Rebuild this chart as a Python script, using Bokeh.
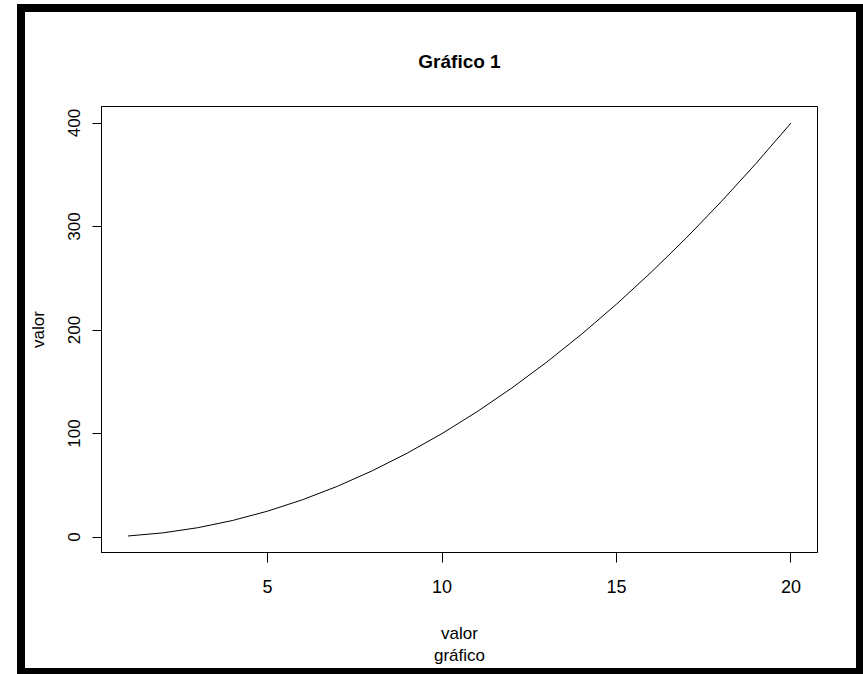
from bokeh.plotting import figure
from bokeh.models import Range1d, FixedTicker
from bokeh.embed import file_html
from bokeh.resources import INLINE

# data
valor_x = [1, 2, 3, 4, 5, 6, 7, 8, 9, 10, 11, 12, 13, 14, 15, 16, 17, 18, 19, 20]
valor_y = [1, 4, 9, 16, 25, 36, 49, 64, 81, 100, 121, 144, 169, 196, 225, 256,
           289, 324, 361, 400]
x_ticks = [5, 10, 15, 20]
y_ticks = [0, 100, 200, 300, 400]
title_text = "Gráfico 1"
x_label = "valor\ngráfico"
y_label = "valor"

FONT = "Liberation Sans, Arial, sans-serif"

p = figure(
    frame_width=716, frame_height=446,
    min_border_left=75, min_border_right=39,
    min_border_top=94, min_border_bottom=116,
    x_range=Range1d(0.24, 20.76), y_range=Range1d(-14.96, 415.96),
    output_backend="svg", toolbar_location=None,
    title=title_text,
)
p.styles = {"outline": "8px solid black", "margin-left": "25px", "margin-top": "12px"}

p.line(valor_x, valor_y, line_color="black", line_width=1)

p.xgrid.visible = False
p.ygrid.visible = False
p.outline_line_color = "black"
p.outline_line_alpha = 1
p.outline_line_width = 1
p.background_fill_color = "white"
p.border_fill_color = "white"

p.title.align = "center"
p.title.text_font = FONT
p.title.text_font_style = "bold"
p.title.text_font_size = "19px"
p.title.text_color = "black"
p.title.standoff = 70

xa = p.xaxis[0]
xa.ticker = FixedTicker(ticks=x_ticks)
xa.major_tick_out = 10
xa.major_tick_in = 0
xa.minor_tick_out = 0
xa.minor_tick_in = 0
xa.axis_line_color = "black"
xa.major_tick_line_color = "black"
xa.major_label_text_font = FONT
xa.major_label_text_font_size = "18px"
xa.major_label_text_color = "black"
xa.major_label_standoff = 17
xa.axis_label = x_label
xa.axis_label_text_font = FONT
xa.axis_label_text_font_size = "17px"
xa.axis_label_text_font_style = "normal"
xa.axis_label_text_color = "black"
xa.axis_label_standoff = 28

ya = p.yaxis[0]
ya.ticker = FixedTicker(ticks=y_ticks)
ya.major_tick_out = 9
ya.major_tick_in = 0
ya.minor_tick_out = 0
ya.minor_tick_in = 0
ya.axis_line_color = "black"
ya.major_tick_line_color = "black"
ya.major_label_orientation = "vertical"
ya.major_label_text_font = FONT
ya.major_label_text_font_size = "17px"
ya.major_label_text_color = "black"
ya.major_label_standoff = 12
ya.axis_label = y_label
ya.axis_label_text_font = FONT
ya.axis_label_text_font_size = "17px"
ya.axis_label_text_font_style = "normal"
ya.axis_label_text_color = "black"
ya.axis_label_standoff = 18

open("out.html", "w").write(file_html(p, INLINE))
